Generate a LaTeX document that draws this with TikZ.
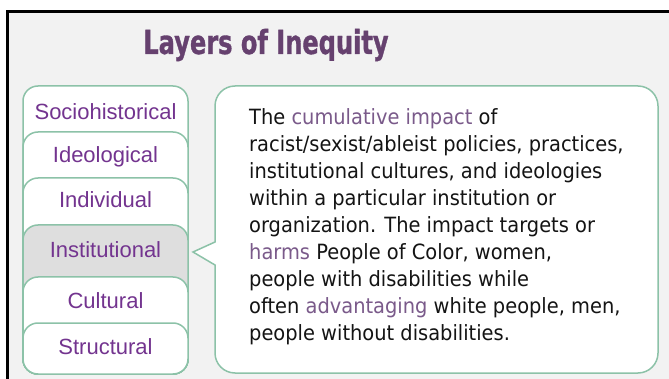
\documentclass[tikz,border=0pt]{standalone}
\usepackage{fontspec}
\setmainfont{Liberation Sans}
\newfontfamily\bodyfont[FakeStretch=0.925]{DejaVu Sans}
\newfontfamily\titlefont[FakeStretch=0.73,FakeBold=1]{DejaVu Sans Bold}
\definecolor{panelgray}{HTML}{F2F2F2}
\definecolor{titlepurple}{HTML}{66416F}
\definecolor{labelpurple}{HTML}{73348F}
\definecolor{hlpurple}{HTML}{7A5A8A}
\definecolor{tabgreen}{HTML}{8CC2A8}
\definecolor{activegray}{HTML}{DEDEDE}
\begin{document}
\begin{tikzpicture}[x=1pt,y=-1pt,
  tab/.style={draw=tabgreen, line width=1.5pt, fill=white, rounded corners=15pt},
  tablabel/.style={text=labelpurple, font=\fontsize{22}{24}\selectfont, inner sep=0pt},
  callout/.style={draw=tabgreen, line width=1.5pt, fill=white},
  hl/.style={text=hlpurple}]
\useasboundingbox (0,0) rectangle (669,379);
% panel with its black frame
\fill[panelgray] (7.5,11.5) rectangle (680,390);
\draw[line width=3pt] (7.5,390) -- (7.5,11.5) -- (680,11.5);
% title
\node[font=\titlefont\fontsize{33}{36}\selectfont, text=titlepurple, inner sep=0pt] (title) at (266,45) {Layers of Inequity};
% stacked layer tabs
\path[tab] (23,86) rectangle (188,374);
\path[tab] (23,132) rectangle (188,374);
\path[tab] (23,178) rectangle (188,374);
\path[tab, fill=activegray] (23,225) rectangle (188,374);
\path[tab] (23,277) rectangle (188,374);
\path[tab] (23,323) rectangle (188,374);
\node[tablabel] (socio) at (105.5,112) {Sociohistorical};
\node[tablabel] (ideo) at (105.5,157) {Ideological};
\node[tablabel] (indiv) at (105.5,200) {Individual};
\node[tablabel] (inst) at (105.5,250) {Institutional};
\node[tablabel] (cult) at (105.5,301) {Cultural};
\node[tablabel] (struct) at (105.5,347) {Structural};
% description callout pointing at the institutional layer
\path[callout] (215,242) [rounded corners=20pt] -- (215,86) -- (658,86) -- (658,373) -- (215,373) [sharp corners] -- (215,265) -- (193,252) -- cycle;
\node[anchor=north west, inner sep=0pt, align=left, text=black!92,
      font=\bodyfont\fontsize{21}{27}\selectfont] (desc) at (249,108)
  {The \textcolor{hlpurple}{cumulative impact} of\\
   racist/sexist/ableist policies, practices,\\
   institutional cultures, and ideologies\\
   within a particular institution or\\
   organization. The impact targets or\\
   \textcolor{hlpurple}{harms} People of Color, women,\\
   people with disabilities while\\
   often \textcolor{hlpurple}{advantaging} white people, men,\\
   people without disabilities.};
\end{tikzpicture}
\end{document}
